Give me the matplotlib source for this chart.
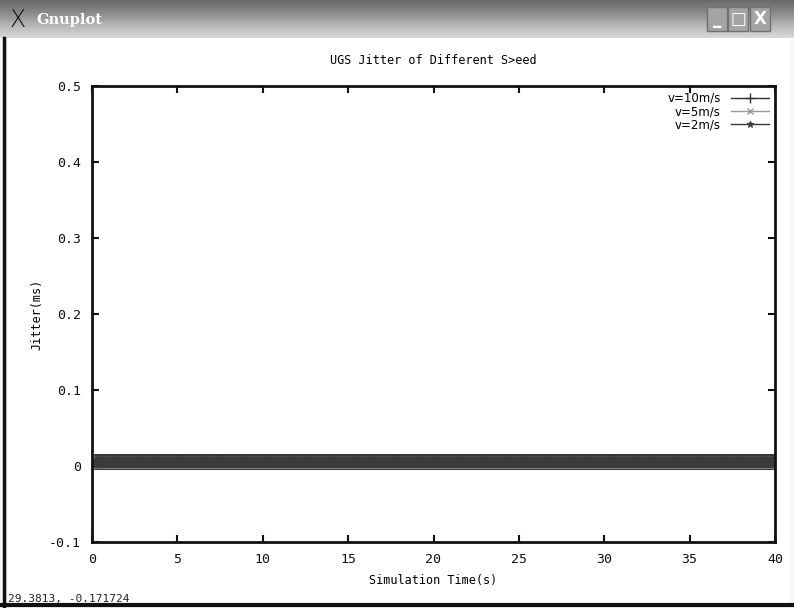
import numpy as np
import matplotlib
matplotlib.use("Agg")
import matplotlib.pyplot as plt
from matplotlib.patches import Rectangle
from matplotlib.lines import Line2D

# Sample times (s) and per-speed jitter (ms)
time_s = np.arange(0.2, 40.01, 0.05)
jitter_v10 = [0.005] * len(time_s)
jitter_v5 = [0.005] * len(time_s)
jitter_v2 = [0.005] * len(time_s)

series_labels = ["v=10m/s", "v=5m/s", "v=2m/s"]
x_ticks = [0, 5, 10, 15, 20, 25, 30, 35, 40]
y_ticks = [-0.1, 0, 0.1, 0.2, 0.3, 0.4, 0.5]
y_tick_labels = ["-0.1", "0", "0.1", "0.2", "0.3", "0.4", "0.5"]

W, H = 794, 608
fig = plt.figure(figsize=(W / 100, H / 100), dpi=100)
fig.patch.set_facecolor("white")

mono = "DejaVu Sans Mono"

# ---- window frame ----
bg = fig.add_axes([0, 0, 1, 1])
bg.set_xlim(0, W)
bg.set_ylim(H, 0)
bg.axis("off")
bg.add_patch(Rectangle((0, 0), W, H, facecolor="#f7f7f7", edgecolor="none"))
bg.add_patch(Rectangle((8, 36), W - 12, H - 40, facecolor="white", edgecolor="none"))
# title bar gradient
grad = np.linspace(0, 1, 40).reshape(-1, 1)
bg.imshow(grad, extent=(0, W, 38, 0), cmap=matplotlib.colors.LinearSegmentedColormap.from_list(
    "tb", ["#6a6a6a", "#8a8a8a", "#b5b5b5", "#d8d8d8"]), aspect="auto", zorder=1)
bg.set_xlim(0, W)
bg.set_ylim(H, 0)
bg.text(10, 20, "X", fontsize=17, family="DejaVu Sans", color="#111111",
        va="center", ha="left", zorder=3, fontweight="light")
bg.text(36, 20, "Gnuplot", fontsize=10.5, family="DejaVu Serif", color="white",
        va="center", ha="left", zorder=3, fontweight="bold")
for bx, sym in [(708, "_"), (729, "□"), (751, "X")]:
    bg.add_patch(Rectangle((bx - 1, 7), 20, 24, facecolor="#a4a4a4",
                           edgecolor="#707070", lw=1, zorder=3))
    bg.text(bx + 9, 19, sym, fontsize=12, color="white", ha="center",
            va="center", zorder=4, fontweight="bold")
# dark window borders
bg.plot([4, 4], [38, H], color="#111111", lw=2.5, zorder=3)
bg.plot([0, W], [H - 3, H - 3], color="#111111", lw=3, zorder=3)
bg.text(8, 599, "29.3813, -0.171724", fontsize=8, family=mono,
        va="center", ha="left", color="#222222", zorder=3)

# ---- plot area ----
ax = fig.add_axes([92 / W, 1 - 542 / H, (775 - 92) / W, (542 - 86) / H])
ax.set_facecolor("white")
ax.set_xlim(0, 40)
ax.set_ylim(-0.1, 0.5)

ax.plot(time_s, jitter_v10, color="#333333", lw=1, marker="+", ms=11, mew=1.2,
        label=series_labels[0])
ax.plot(time_s, jitter_v5, color="#888888", lw=1, marker="x", ms=8, mew=1,
        label=series_labels[1])
ax.plot(time_s, jitter_v2, color="#3a3a3a", lw=1, marker="*", ms=9, mew=0.8,
        label=series_labels[2])

ax.set_xticks(x_ticks)
ax.set_xticklabels([str(t) for t in x_ticks], family=mono, fontsize=9.5)
ax.set_yticks(y_ticks)
ax.set_yticklabels(y_tick_labels, family=mono, fontsize=9.5)
ax.tick_params(direction="in", length=5, width=1.5, top=True, right=True,
               pad=8, colors="#111111")
for s in ax.spines.values():
    s.set_linewidth(2)
    s.set_color("#111111")

ax.set_title("UGS Jitter of Different S>eed", family=mono, fontsize=8.5, pad=16)
ax.set_xlabel("Simulation Time(s)", family=mono, fontsize=8.5, labelpad=6)
ax.set_ylabel("Jitter(ms)", family=mono, fontsize=8.5, labelpad=4)

handles = [
    Line2D([], [], color="#333333", lw=1, marker="+", ms=7, mew=1),
    Line2D([], [], color="#999999", lw=1, marker="x", ms=5, mew=1),
    Line2D([], [], color="#3a3a3a", lw=1, marker="*", ms=5, mew=0.8),
]
ax.legend(handles, series_labels, loc="upper right", frameon=False,
          markerfirst=False, handlelength=3.2, labelspacing=0.02,
          borderaxespad=0.1, handletextpad=0.9,
          prop={"family": "DejaVu Sans", "size": 8.5})

fig.savefig("out.png", dpi=100)
